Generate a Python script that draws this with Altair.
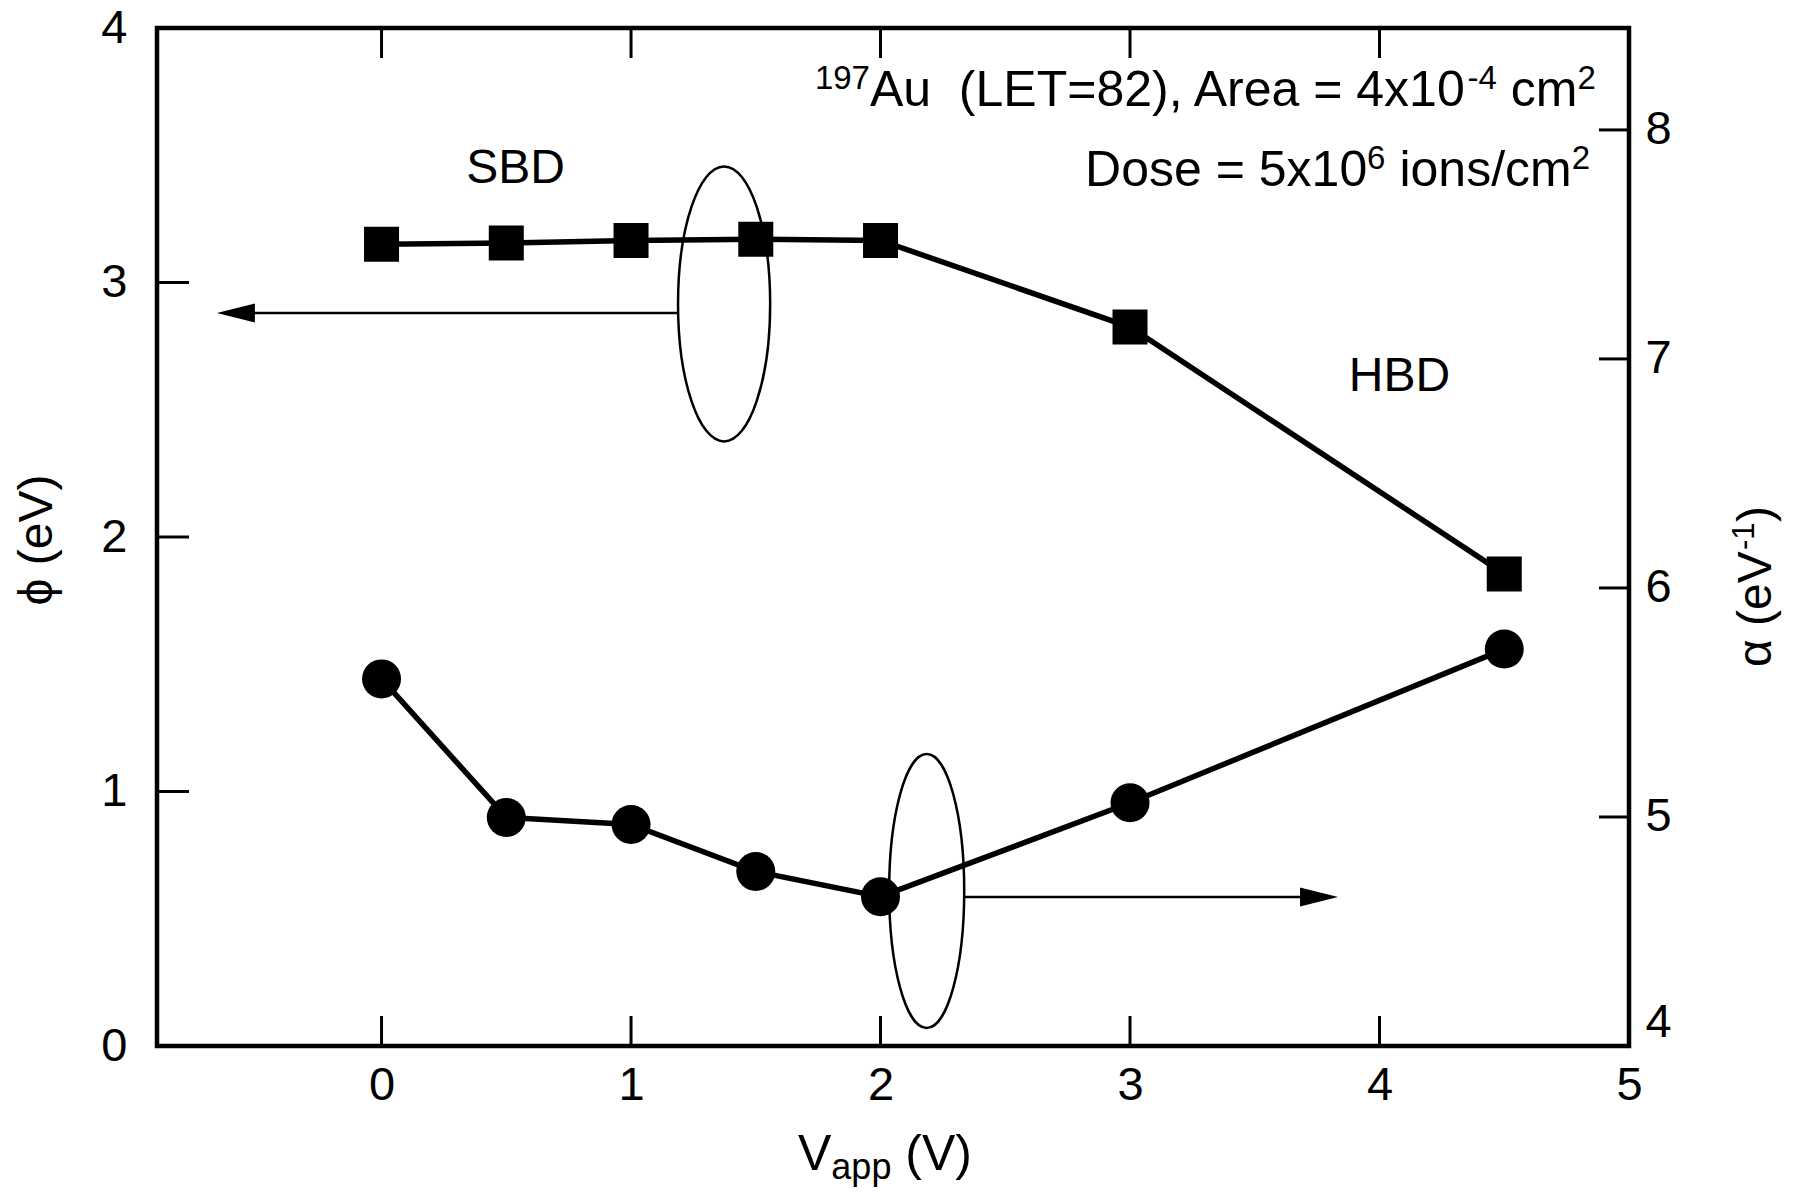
import altair as alt
import pandas as pd

# ---- data ----
v_app = [0, 0.5, 1, 1.5, 2, 3, 4.5]
phi_ev = [3.15, 3.155, 3.165, 3.17, 3.165, 2.825, 1.855]
alpha_inv_ev = [5.603, 4.998, 4.967, 4.762, 4.652, 5.062, 5.733]

x_ticks = [0, 1, 2, 3, 4, 5]
phi_ticks = [0, 1, 2, 3, 4]
alpha_ticks = [4, 5, 6, 7, 8]

X_DOMAIN = [-0.9, 5]
PHI_DOMAIN = [0, 4]
ALPHA_DOMAIN = [4, 8.445]

W, H = 1472, 1018
FONT = "Liberation Sans"
TICK_LEN = 30
LABEL_SIZE = 47

xscale = alt.Scale(domain=X_DOMAIN, nice=False, zero=False)
phiscale = alt.Scale(domain=PHI_DOMAIN, nice=False, zero=False)
alphascale = alt.Scale(domain=ALPHA_DOMAIN, nice=False, zero=False)

xaxis = alt.Axis(values=x_ticks, title=None, labelFontSize=LABEL_SIZE, labelFont=FONT,
                 labelColor="black", ticks=False, tickSize=0, domain=False,
                 grid=False, labelPadding=16, format="d", labelFlush=False)
phiaxis = alt.Axis(values=phi_ticks, title=None, orient="left", labelFontSize=LABEL_SIZE,
                   labelFont=FONT, labelColor="black", ticks=False, tickSize=0,
                   domain=False, grid=False, labelPadding=30, format="d",
                   labelFlush=False)
alphaaxis = alt.Axis(values=alpha_ticks, title=None, orient="right", labelFontSize=LABEL_SIZE,
                     labelFont=FONT, labelColor="black", ticks=False, tickSize=0,
                     domain=False, grid=False, labelPadding=16, format="d",
                     labelFlush=False,
                     labelBaseline={"condition": {"test": "datum.value == 4", "value": "bottom"},
                                    "value": "middle"})


def X(field="x"):
    return alt.X(f"{field}:Q", scale=xscale, axis=xaxis)


def X2(field="x2"):
    return alt.X2(f"{field}:Q")


def YP(field="y"):
    return alt.Y(f"{field}:Q", scale=phiscale, axis=phiaxis)


def YA(field="y"):
    return alt.Y(f"{field}:Q", scale=alphascale, axis=alphaaxis)


phi_df = pd.DataFrame({"x": v_app, "y": phi_ev})
alpha_df = pd.DataFrame({"x": v_app, "y": alpha_inv_ev})


def txt(x, y, s, size=50, dx=0, dy=0, align="left", angle=0):
    df = pd.DataFrame({"x": [x], "y": [y], "t": [s]})
    kw = dict(align=align, baseline="alphabetic", dx=dx, dy=dy, fontSize=size,
              font=FONT, color="black")
    if angle:
        kw["angle"] = angle
    return alt.Chart(df).mark_text(**kw).encode(x=X(), y=YP(), text="t:N")


# ---- left (phi) layers ----
phi_line = alt.Chart(phi_df).mark_line(color="black", strokeWidth=5.5).encode(x=X(), y=YP())
phi_pts = alt.Chart(phi_df).mark_square(color="black", size=1225, opacity=1).encode(x=X(), y=YP())

# arrows and ellipses
arrow_left = alt.Chart(pd.DataFrame({"x": [-0.62], "x2": [1.188], "y": [2.880]})).mark_rule(
    color="black", strokeWidth=2.5).encode(x=X(), x2=X2(), y=YP())
head_left = alt.Chart(pd.DataFrame({"x": [-0.660], "y": [2.880]})).mark_point(
    shape="M0,0L2,-0.5L2,0.5Z", filled=True, size=1444, color="black", opacity=1,
    strokeWidth=0).encode(x=X(), y=YP())
arrow_right = alt.Chart(pd.DataFrame({"x": [2.335], "x2": [3.80], "y": [0.585]})).mark_rule(
    color="black", strokeWidth=2.5).encode(x=X(), x2=X2(), y=YP())
head_right = alt.Chart(pd.DataFrame({"x": [3.834], "y": [0.585]})).mark_point(
    shape="M0,0L-2,-0.5L-2,0.5Z", filled=True, size=1444, color="black", opacity=1,
    strokeWidth=0).encode(x=X(), y=YP())
ell_left = alt.Chart(pd.DataFrame({"x": [1.373], "y": [2.916]})).mark_point(
    shape="M0,-1A0.335,1 0 1,1 0,1A0.335,1 0 1,1 0,-1", filled=False, size=75625,
    color="black", opacity=1, strokeWidth=2.5).encode(x=X(), y=YP())
ell_right = alt.Chart(pd.DataFrame({"x": [2.185], "y": [0.609]})).mark_point(
    shape="M0,-1A0.274,1 0 1,1 0,1A0.274,1 0 1,1 0,-1", filled=False, size=75076,
    color="black", opacity=1, strokeWidth=2.5).encode(x=X(), y=YP())

# inward ticks
xt_df = pd.DataFrame({"x": x_ticks})
tick_bottom = alt.Chart(xt_df).mark_rule(color="black", strokeWidth=3).encode(
    x=X(), y=alt.value(H), y2=alt.value(H - TICK_LEN))
tick_top = alt.Chart(xt_df).mark_rule(color="black", strokeWidth=3).encode(
    x=X(), y=alt.value(0), y2=alt.value(TICK_LEN))
tick_left = alt.Chart(pd.DataFrame({"y": phi_ticks})).mark_rule(color="black", strokeWidth=3).encode(
    y=YP(), x=alt.value(0), x2=alt.value(TICK_LEN + 2))

# annotations
SUP = 33
SUP_DY = -17
SP = 13.9  # width of a space at 50px
L1Y, L2Y = 3.694, 3.379
annots = [
    # line 1: 197Au  (LET=82), Area = 4x10-4 cm2
    txt(1.737, L1Y, "197", SUP, 0, SUP_DY),
    txt(1.737, L1Y, "Au\u00a0\u00a0(LET=82), Area = 4x10", 50, 55),
    txt(1.737, L1Y, "-4", SUP, 652.6, SUP_DY),
    txt(1.737, L1Y, "cm", 50, 682 + SP),
    txt(1.737, L1Y, "2", SUP, 762.5, SUP_DY),
    # line 2: Dose = 5x10^6 ions/cm^2
    txt(2.820, L2Y, "Dose = 5x10", 50, 0),
    txt(2.820, L2Y, "6", SUP, 282, SUP_DY),
    txt(2.820, L2Y, "ions/cm", 50, 300.4 + SP),
    txt(2.820, L2Y, "2", SUP, 486.6, SUP_DY),
    # regime labels
    txt(0.537, 3.391, "SBD", 48, align="center"),
    txt(4.080, 2.574, "HBD", 48, align="center"),
    # x title: V_app (V)
    txt(1.669, -0.487, "V", 50, 0),
    txt(1.669, -0.487, "app", 36, 33.4, 9),
    txt(1.669, -0.487, "(V)", 50, 93.5 + SP),
    # left title
    txt(-1.321, 1.988, "\u03d5 (eV)", 48, align="center", angle=270),
    # right title: alpha (eV^-1)
    txt(5.569, 1.489, "\u03b1 (eV", 48, 0, 0, angle=270),
    txt(5.569, 1.489, "-1", 31, 117, -17, angle=270),
    txt(5.569, 1.489, ")", 48, 145, 0, angle=270),
]

left = alt.layer(tick_bottom, tick_top, tick_left, arrow_left, head_left, arrow_right,
                 head_right, ell_left, ell_right, phi_line, phi_pts, *annots)

# ---- right (alpha) layers ----
alpha_line = alt.Chart(alpha_df).mark_line(color="black", strokeWidth=5.5).encode(x=X(), y=YA())
alpha_pts = alt.Chart(alpha_df).mark_circle(color="black", size=1521, opacity=1).encode(x=X(), y=YA())
tick_right = alt.Chart(pd.DataFrame({"y": alpha_ticks})).mark_rule(color="black", strokeWidth=3).encode(
    y=YA(), x=alt.value(W), x2=alt.value(W - TICK_LEN))
right = alt.layer(tick_right, alpha_line, alpha_pts)

chart = (
    alt.layer(left, right)
    .resolve_scale(y="independent")
    .properties(width=W, height=H,
                padding={"left": 149, "top": 20, "right": 157, "bottom": 143},
                autosize=alt.AutoSizeParams(type="none"))
    .configure_view(stroke="black", strokeWidth=4.5)
)

chart.save("out.html", embed_options={"renderer": "svg", "actions": False})
